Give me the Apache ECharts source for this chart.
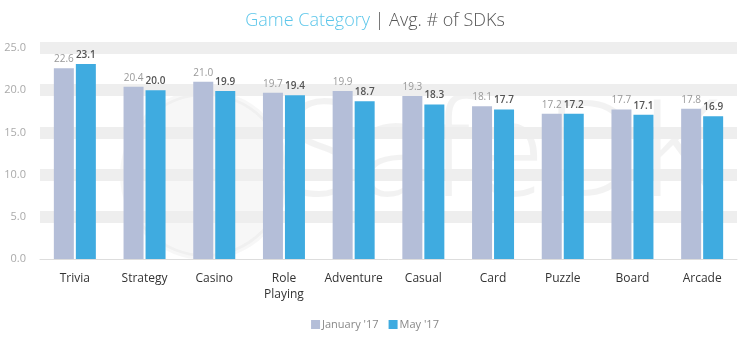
<!DOCTYPE html>
<html><head><meta charset="utf-8">
<script src="https://cdn.jsdelivr.net/npm/echarts@6/dist/echarts.min.js"></script>
<style>html,body{margin:0;padding:0;background:#fff}#c{width:750px;height:341px}</style>
</head><body><div id="c"></div>
<script>
const categories = ['Trivia','Strategy','Casino','Role\nPlaying','Adventure','Casual','Card','Puzzle','Board','Arcade'];
const january = [22.6,20.4,21.0,19.7,19.9,19.3,18.1,17.2,17.7,17.8];
const may = [23.1,20.0,19.9,19.4,18.7,18.3,17.7,17.2,17.1,16.9];
const seriesNames = ["January '17","May '17"];
const yTicks = {min:0,max:25,interval:5};

const font = '"Open Sans", "Noto Sans", sans-serif';
const chart = echarts.init(document.getElementById('c'));
chart.setOption({
  animation:false,
  textStyle:{fontFamily:font},
  title:{
    text:'{a|Game Category} {b|| Avg. # of SDKs}',
    left:'center', top:7,
    textStyle:{rich:{
      a:{fontFamily:font,fontSize:18,fontWeight:300,color:'#5cc6ea'},
      b:{fontFamily:font,fontSize:18,fontWeight:300,color:'#555'}
    }}
  },
  graphic:[
    {type:'circle',shape:{cx:205,cy:175,r:82},z:0,silent:true,
     style:{fill:'rgba(0,0,0,0.03)',stroke:'rgba(0,0,0,0.03)',lineWidth:6}},
    {type:'text',left:285,top:90,z:0,silent:true,
     style:{text:'SafeDK',fontSize:135,fontFamily:font,fontWeight:300,fill:'rgba(0,0,0,0.05)'}}
  ],
  legend:{
    bottom:6,left:'center',itemWidth:9,itemHeight:9,itemGap:10,
    icon:'rect',
    textStyle:{fontFamily:font,fontSize:11,color:'#888',padding:[0,0,0,-3]},
    data:seriesNames
  },
  grid:{left:40,right:13,top:48,bottom:82},
  xAxis:{
    type:'category',data:categories,
    axisLine:{lineStyle:{color:'#ddd'}},axisTick:{show:false},
    axisLabel:{interval:0,color:'#333',fontSize:12,fontFamily:font,margin:12,lineHeight:16}
  },
  yAxis:{
    type:'value',min:yTicks.min,max:yTicks.max,interval:yTicks.interval,
    axisLabel:{color:'#aaa',fontSize:11,fontFamily:font,formatter:v=>v.toFixed(1),margin:14},
    axisLine:{show:false},axisTick:{show:false},
    splitLine:{lineStyle:{width:12,color:['rgba(0,0,0,0)','#eeeeee','#eeeeee','#eeeeee','#eeeeee','#eeeeee']}}
  },
  series:[
    {name:seriesNames[0],type:'bar',data:january,barWidth:20,barGap:'10%',
     itemStyle:{color:'#b4bed8'},
     label:{show:true,position:'top',distance:4,fontSize:10,color:'#999',fontFamily:font,formatter:p=>p.value.toFixed(1)}},
    {name:seriesNames[1],type:'bar',data:may,barWidth:20,
     itemStyle:{color:'#3fabe0'},
     label:{show:true,position:'top',distance:4,fontSize:10,color:'#555',fontWeight:600,fontFamily:font,formatter:p=>p.value.toFixed(1)}}
  ]
});
</script></body></html>
